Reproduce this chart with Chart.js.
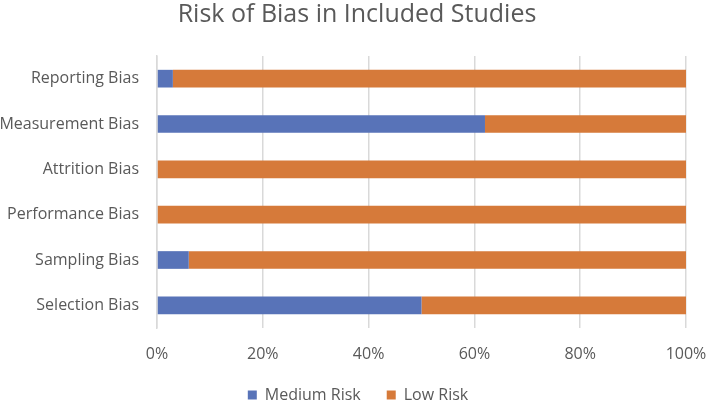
<!DOCTYPE html>
<html>
<head>
<meta charset="utf-8">
<script src="https://cdn.jsdelivr.net/npm/chart.js@4"></script>
<style>
  html, body { margin: 0; padding: 0; background: #fff; }
  #wrap { width: 706px; height: 400px; }
</style>
</head>
<body>
<div id="wrap"><canvas id="chart1"></canvas></div>
<script>
var categories = ["Reporting Bias", "Measurement Bias", "Attrition Bias", "Performance Bias", "Sampling Bias", "Selection Bias"];
var mediumRisk = [3, 62, 0, 0, 6, 50];
var lowRisk = [97, 38, 100, 100, 94, 50];
var tickLabels = ["0%", "20%", "40%", "60%", "80%", "100%"];

var textColor = '#595959';
var fontName = "'Open Sans', sans-serif";

// nudge title to the right and put the legend near the bottom edge
var placeBoxes = {
  id: 'placeBoxes',
  afterLayout: function(chart) {
    var tb = chart.titleBlock;
    tb.left += 4;
    tb.right += 4;
    var lg = chart.legend;
    lg.left += 5;
    lg.right += 5;
    lg.top = 395 - 26 - 8;
    lg.bottom = 400;
    lg.height = lg.bottom - lg.top;
  }
};

var ctx = document.getElementById('chart1').getContext('2d');
var chart = new Chart(ctx, {
  type: 'bar',
  data: {
    labels: categories,
    datasets: [{
      label: "Medium Risk",
      backgroundColor: 'rgb(88, 115, 184)',
      data: mediumRisk,
      barPercentage: 0.39,
      categoryPercentage: 1
    }, {
      label: "Low Risk",
      backgroundColor: 'rgb(214, 122, 58)',
      data: lowRisk,
      barPercentage: 0.39,
      categoryPercentage: 1
    }]
  },
  options: {
    indexAxis: 'y',
    responsive: true,
    maintainAspectRatio: false,
    animation: false,
    layout: { padding: 0 },
    scales: {
      x: {
        stacked: true,
        min: 0,
        max: 100,
        ticks: {
          stepSize: 20,
          color: textColor,
          font: { family: fontName, size: 16 },
          padding: 17,
          callback: function(value, index) { return tickLabels[index]; }
        },
        grid: { color: '#d9d9d9', lineWidth: 1.5, drawTicks: false },
        border: { display: false },
        afterFit: function(scale) {
          scale.height = 46;
          scale.paddingRight = 20;
        }
      },
      y: {
        stacked: true,
        ticks: {
          color: textColor,
          font: { family: fontName, size: 16 },
          padding: 10
        },
        grid: { display: false },
        border: { color: '#d9d9d9', width: 1.5 },
        afterFit: function(scale) { scale.width = 157; }
      }
    },
    plugins: {
      title: {
        display: true,
        text: "Risk of Bias in Included Studies",
        color: textColor,
        font: { family: fontName, size: 25, weight: 'normal' },
        padding: { top: 0, bottom: 26 }
      },
      legend: {
        position: 'bottom',
        maxHeight: 26,
        labels: {
          color: textColor,
          font: { family: fontName, size: 16 },
          boxWidth: 9,
          boxHeight: 9,
          padding: 26
        }
      },
      tooltip: { enabled: false }
    }
  },
  plugins: [placeBoxes]
});
</script>
</body>
</html>
